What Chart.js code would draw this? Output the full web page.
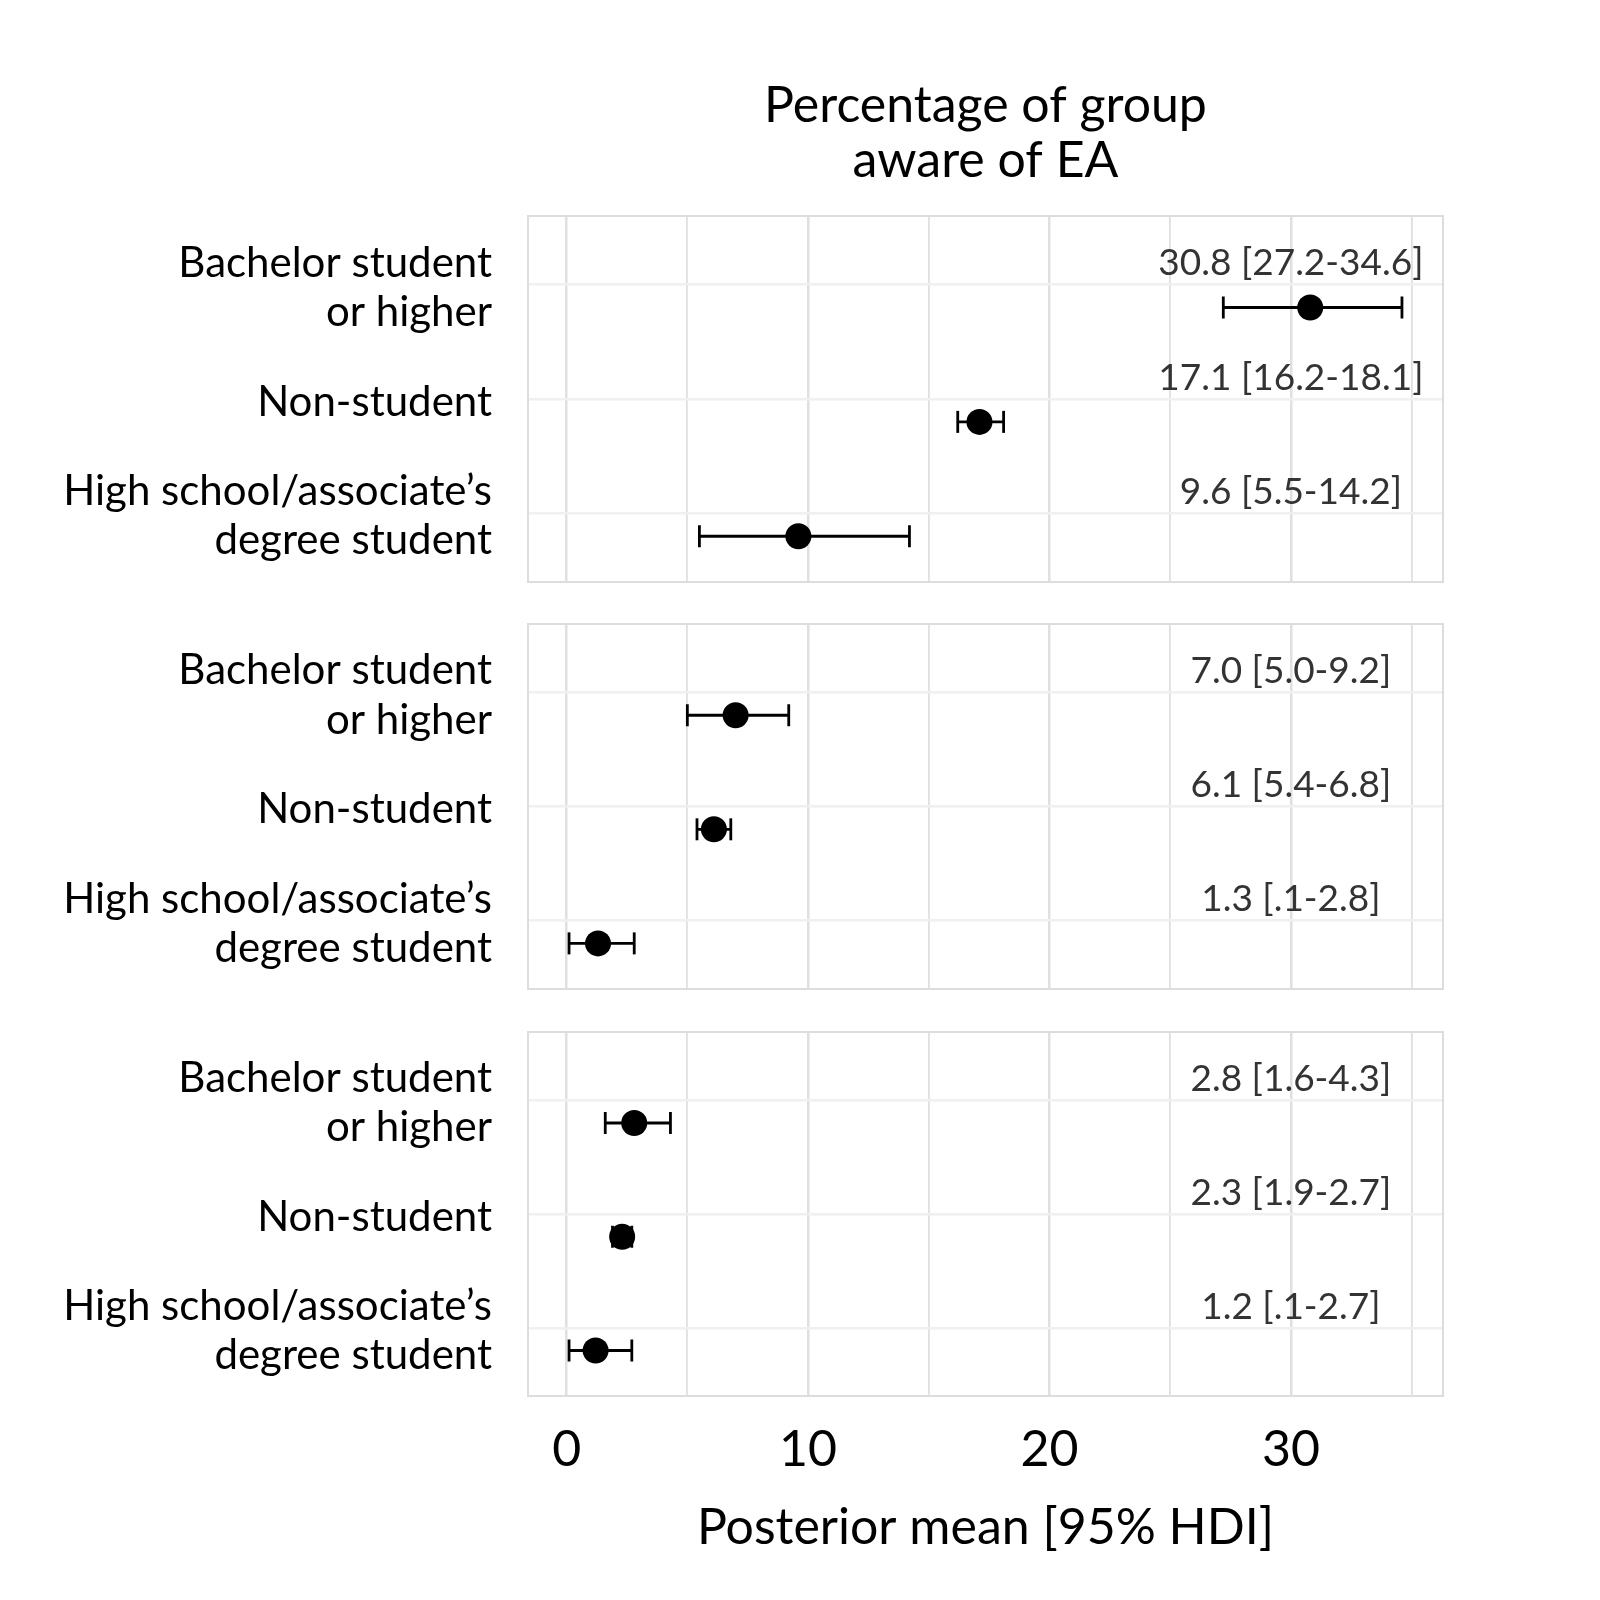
<!DOCTYPE html>
<html>
<head>
<meta charset="utf-8">
<script src="https://cdn.jsdelivr.net/npm/chart.js@4.4.1/dist/chart.umd.min.js"></script>
<style>
  html, body { margin: 0; padding: 0; background: #fff; }
  #wrap { position: relative; width: 1600px; height: 1600px; }
  .panel { position: absolute; left: 0; width: 1600px; }
</style>
</head>
<body>
<div id="wrap">
  <div class="panel" style="top:0;height:584px"><canvas id="c1"></canvas></div>
  <div class="panel" style="top:622px;height:369px"><canvas id="c2"></canvas></div>
  <div class="panel" style="top:1030px;height:570px"><canvas id="c3"></canvas></div>
</div>
<script>
'use strict';

// Row labels (top to bottom inside each panel)
const categories = [
	['Bachelor student', 'or higher'],
	'Non-student',
	['High school/associate\u2019s', 'degree student']
];

// Posterior means and 95% HDI, one set per panel
const panel1Mean = [30.8, 17.1, 9.6];
const panel1Lo = [27.2, 16.2, 5.5];
const panel1Hi = [34.6, 18.1, 14.2];

const panel2Mean = [7.0, 6.1, 1.3];
const panel2Lo = [5.0, 5.4, 0.1];
const panel2Hi = [9.2, 6.8, 2.8];

const panel3Mean = [2.8, 2.3, 1.2];
const panel3Lo = [1.6, 1.9, 0.1];
const panel3Hi = [4.3, 2.7, 2.7];

const xTicks = [0, 10, 20, 30];
const labelX = 30;

const FONT = 'Lato, "Noto Sans", sans-serif';

function fmt(v) {
	let s = v.toFixed(1);
	if (v < 1) s = s.replace(/^0/, '');
	return s;
}

// text labels + panel frame
const panelExtras = {
	id: 'panelExtras',
	beforeDatasetsDraw(chart) {
		const a = chart.chartArea;
		const ctx = chart.ctx;
		ctx.save();
		ctx.strokeStyle = '#dddddd';
		ctx.lineWidth = 2;
		ctx.strokeRect(a.left, a.top, a.right - a.left, a.bottom - a.top);
		ctx.restore();
	},
	afterDatasetsDraw(chart) {
		const p = chart.config.options.plugins.panelExtras;
		const ctx = chart.ctx;
		const xs = chart.scales.x;
		const ys = chart.scales.y;
		ctx.save();
		ctx.fillStyle = '#333333';
		ctx.font = '37px ' + FONT;
		ctx.textAlign = 'center';
		ctx.textBaseline = 'middle';
		for (let i = 0; i < p.mean.length; ++i) {
			const txt = fmt(p.mean[i]) + ' [' + fmt(p.lo[i]) + '-' + fmt(p.hi[i]) + ']';
			ctx.fillText(txt, xs.getPixelForValue(labelX), ys.getPixelForValue(i - 0.185));
		}
		ctx.restore();
	}
};

function makePanel(id, mean, lo, hi, opts) {
	const datasets = [];

	datasets.push({
		type: 'scatter',
		data: mean.map((m, i) => ({x: m, y: i + 0.2})),
		pointRadius: 13,
		pointBackgroundColor: '#000',
		pointBorderWidth: 0,
		order: 0
	});

	for (let i = 0; i < mean.length; ++i) {
		datasets.push({
			type: 'scatter',
			showLine: true,
			data: [{x: lo[i], y: i + 0.2}, {x: hi[i], y: i + 0.2}],
			borderColor: '#000',
			borderWidth: 2.8,
			pointStyle: 'line',
			rotation: 90,
			pointRadius: 11,
			pointBorderColor: '#000',
			pointBorderWidth: 2.8,
			order: 1
		});
	}

	return new Chart(document.getElementById(id), {
		type: 'scatter',
		data: {datasets: datasets},
		options: {
			responsive: true,
			maintainAspectRatio: false,
			animation: false,
			layout: {
				autoPadding: false,
				padding: {top: opts.padTop, bottom: opts.padBottom, left: 0, right: 157}
			},
			plugins: {
				legend: {display: false},
				tooltip: {enabled: false},
				title: opts.title,
				panelExtras: {mean: mean, lo: lo, hi: hi}
			},
			scales: {
				x: {
					type: 'linear',
					min: -1.6,
					max: 36.3,
					border: {display: false},
					grid: {
						drawTicks: false,
						color: '#e0e0e0',
						lineWidth: (c) => (c.tick && c.tick.value % 10 === 0) ? 2.5 : 1.8
					},
					ticks: {
						display: opts.showX,
						stepSize: 5,
						includeBounds: false,
						padding: 24,
						color: '#000',
						font: {family: FONT, size: 50, lineHeight: 1.2},
						callback: (v) => xTicks.includes(v) ? String(v) : ''
					},
					title: {
						display: opts.showX,
						text: 'Posterior mean [95% HDI]',
						color: '#000',
						font: {family: FONT, size: 50, lineHeight: 1.2},
						padding: {top: 10, bottom: 0}
					},
					afterFit: (s) => {
						s.height = opts.xHeight;
						s.paddingLeft = 0;
						s.paddingRight = 0;
					}
				},
				y: {
					type: 'linear',
					reverse: true,
					min: -0.6,
					max: 2.6,
					border: {display: false},
					grid: {drawTicks: false, color: '#f0f0f0', lineWidth: 2.5},
					ticks: {
						stepSize: 1,
						includeBounds: false,
						padding: 36,
						labelOffset: 3,
						color: '#000',
						font: {family: FONT, size: 42, lineHeight: 1.17},
						callback: (v) => categories[v]
					},
					afterFit: (s) => {
						s.width = 528;
						s.paddingTop = 0;
						s.paddingBottom = 0;
					}
				}
			}
		},
		plugins: [panelExtras]
	});
}

makePanel('c1', panel1Mean, panel1Lo, panel1Hi, {
	padTop: 0, padBottom: 2, showX: false, xHeight: 0,
	title: {
		display: true,
		fullSize: false,
		text: ['Percentage of group', 'aware of EA'],
		color: '#000',
		font: {family: FONT, size: 50, weight: 'normal', lineHeight: 1.1},
		padding: {top: 78, bottom: 28}
	}
});

makePanel('c2', panel2Mean, panel2Lo, panel2Hi, {
	padTop: 2, padBottom: 2, showX: false, xHeight: 0,
	title: {display: false}
});

makePanel('c3', panel3Mean, panel3Lo, panel3Hi, {
	padTop: 2, padBottom: 42, showX: true, xHeight: 162,
	title: {display: false}
});
</script>
</body>
</html>
